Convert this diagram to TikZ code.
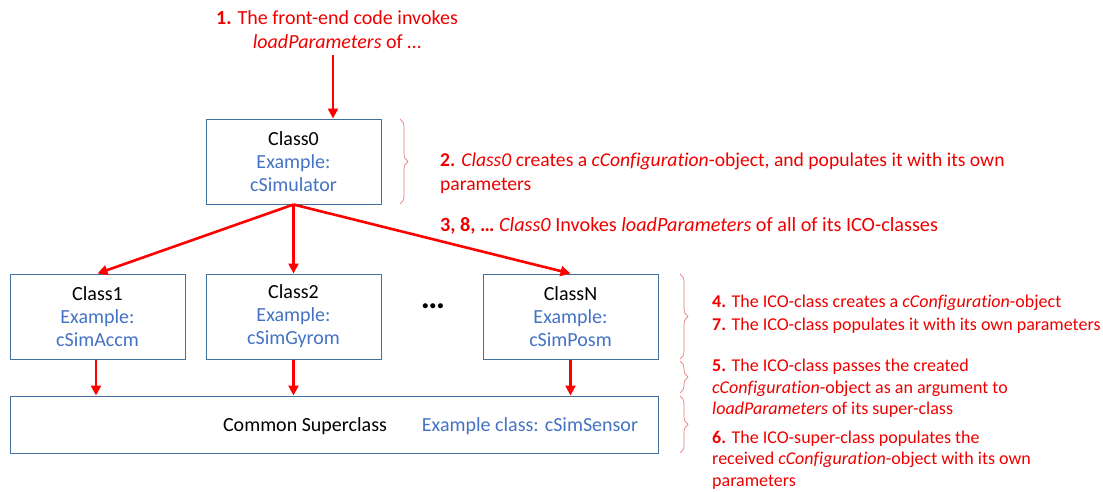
\documentclass[tikz,border=0pt]{standalone}
\usepackage{fontspec}
\setmainfont{Carlito}[Ligatures=NoCommon]
\usetikzlibrary{arrows.meta,decorations.pathreplacing}
\definecolor{txtred}{RGB}{238,0,0}
\definecolor{arrred}{RGB}{255,0,0}
\definecolor{exblue}{RGB}{68,114,196}
\definecolor{boxline}{RGB}{65,113,156}
\definecolor{bracered}{RGB}{236,120,120}
\tikzset{
  classbox/.style={draw=boxline, line width=1pt, minimum width=175pt, minimum height=85pt,
    align=center, font=\fontsize{20}{23}\selectfont, inner sep=0pt},
  flow/.style={draw=arrred, line width=2.6pt, -{Triangle[length=10pt,width=10pt]}},
  note/.style={text=txtred, align=left, anchor=base west, inner sep=0pt},
  bigbrace/.style={draw=bracered, line width=0.7pt, decorate,
    decoration={brace, amplitude=8pt}},
}
\newcommand{\ex}[1]{\textcolor{exblue}{#1}}
\begin{document}
\begin{tikzpicture}[x=1pt,y=-1pt]
\useasboundingbox (0,0) rectangle (1103,491);

% step 1 caption (anchor is the baseline of its last line)
\node[text=txtred, align=center, anchor=base, inner sep=0pt,
      font=\fontsize{20}{24}\selectfont] (start) at (337,48.5)
  {\textbf{1.} The front-end code invokes\\\textit{loadParameters} of \dots};

% classes
\node[classbox] (c0) at (293.5,161.5) {Class0\\\ex{Example:}\\\ex{cSimulator}};
\node[classbox] (c1) at (97.5,316.5) {Class1\\\ex{Example:}\\\ex{cSimAccm}};
\node[classbox] (c2) at (293.5,316.5) {Class2\\\ex{Example:}\\\ex{cSimGyrom}};
\node[classbox] (cN) at (570.5,316.5) {ClassN\\\ex{Example:}\\\ex{cSimPosm}};
\node[font=\fontsize{34}{34}\selectfont\bfseries, anchor=base, inner sep=0pt] (dots) at (433,308) {\dots};

% common superclass
\node[draw=boxline, line width=1pt, minimum width=648pt, minimum height=57pt, inner sep=0pt]
  (sup) at (334,424.5) {};
\node[font=\fontsize{20}{23}\selectfont, anchor=base, inner sep=0pt] (supname) at (305,431) {Common Superclass};
\node[font=\fontsize{20}{23}\selectfont, anchor=base, inner sep=0pt, text=exblue] (supex) at (530,431) {Example class: cSimSensor};

% connectors
\coordinate (entry) at (333,0);
\draw[flow] (start.south -| entry) ++(0,6) -- (c0.north -| entry);
\draw[flow] (c0.south) -- (c1.north);
\draw[flow] (c0.south) -- (c2.north);
\draw[flow] (c0.south) -- (cN.north);
\coordinate (d1) at (96,0);
\draw[flow] (c1.south -| d1) -- (sup.north -| d1);
\draw[flow] (c2.south) -- (sup.north -| c2.south);
\draw[flow] (cN.south) -- (sup.north -| cN.south);

% braces
\draw[bigbrace] (400,119) -- (400,204);
\draw[bigbrace] (680,274) -- (680,359);
\draw[bigbrace] (680,361) -- (680,393);
\draw[bigbrace] (680,396) -- (680,453);

% step notes (anchors at the baseline of the last line)
\node[note, font=\fontsize{19.6}{24}\selectfont] (n2) at (440,190)
  {\textbf{2.} \textit{Class0} creates a \textit{cConfiguration}-object, and populates it with its own\\parameters};
\node[note, font=\fontsize{20.2}{24}\selectfont] (n3) at (440,231)
  {\textbf{3, 8, \dots} \textit{Class0} Invokes \textit{loadParameters} of all of its ICO-classes};
\node[note, font=\fontsize{18}{23}\selectfont] (n4) at (712,330.5)
  {\textbf{4.} The ICO-class creates a \textit{cConfiguration}-object\\
   \textbf{7.} The ICO-class populates it with its own parameters};
\node[note, font=\fontsize{18}{21.5}\selectfont] (n5) at (712,414.5)
  {\textbf{5.} The ICO-class passes the created\\
   \textit{cConfiguration}-object as an argument to\\
   \textit{loadParameters} of its super-class};
\node[note, font=\fontsize{18}{21.5}\selectfont] (n6) at (712,486)
  {\textbf{6.} The ICO-super-class populates the\\
   received \textit{cConfiguration}-object with its own\\
   parameters};
\end{tikzpicture}
\end{document}
